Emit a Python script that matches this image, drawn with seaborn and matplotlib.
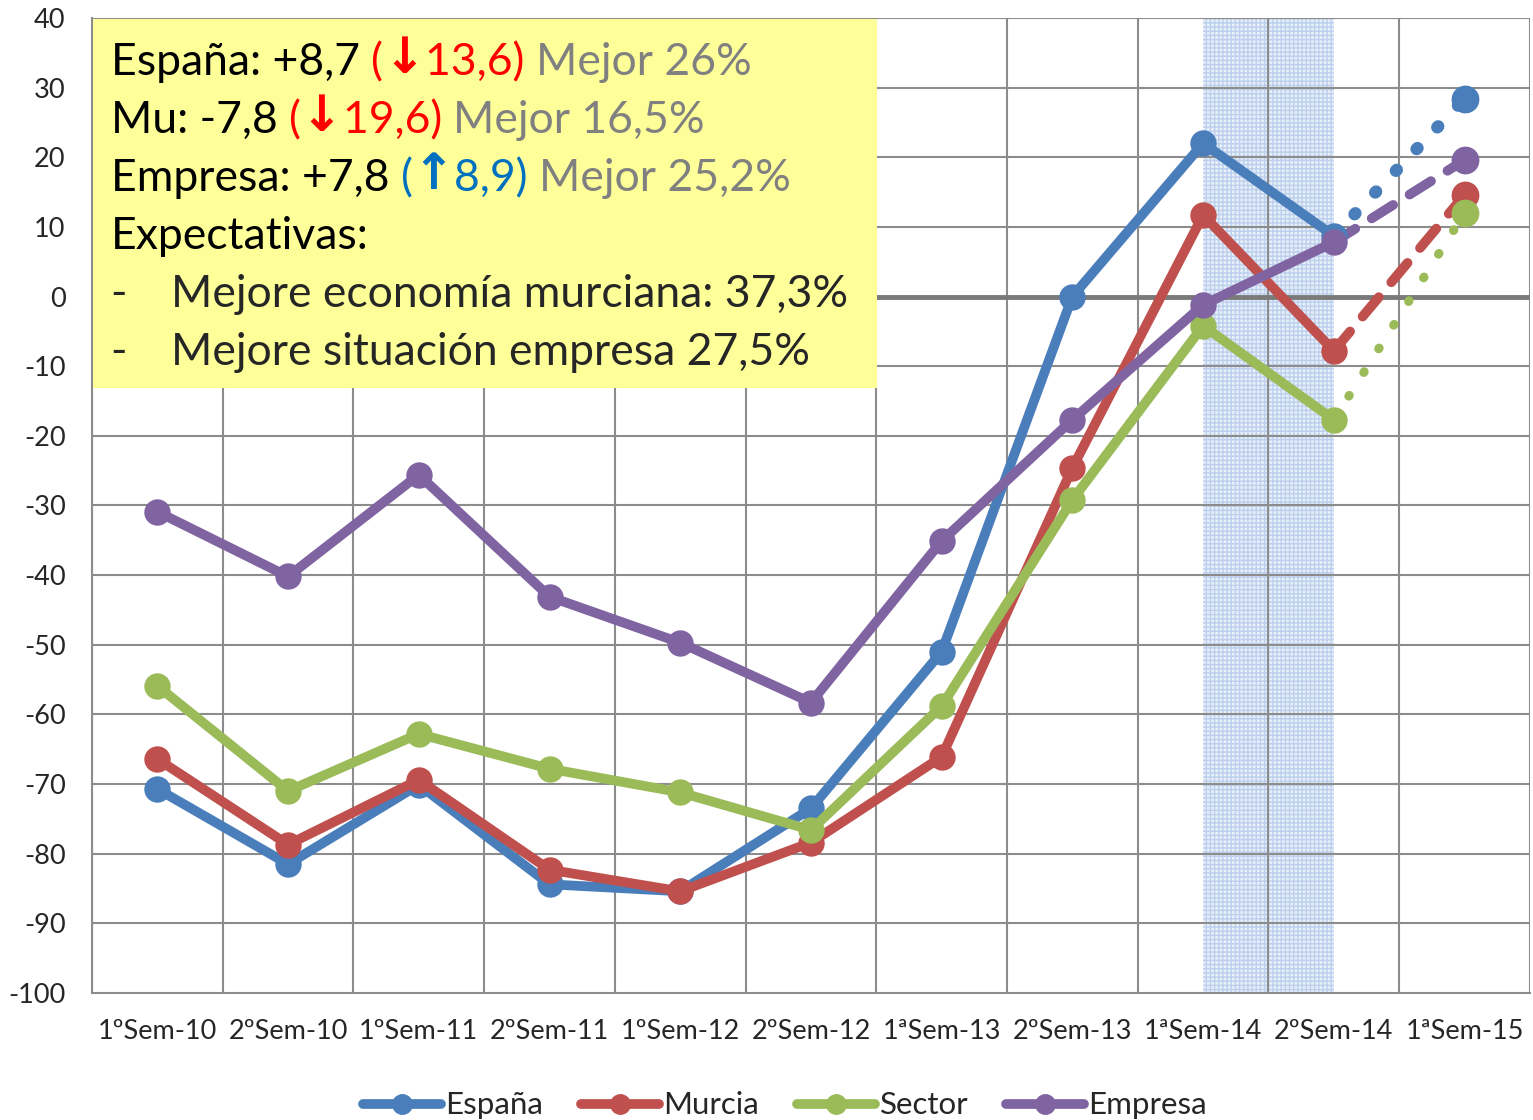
import numpy as np
import pandas as pd
import matplotlib.pyplot as plt
import seaborn as sns
from matplotlib.lines import Line2D
from matplotlib.patches import Rectangle

sns.set_style("white")
plt.rcParams['font.family'] = ['Lato', 'DejaVu Sans']

# data
semestres = ["1ºSem-10", "2ºSem-10", "1ºSem-11", "2ºSem-11", "1ºSem-12", "2ºSem-12",
             "1ªSem-13", "2ºSem-13", "1ªSem-14", "2ºSem-14", "1ªSem-15"]
espana = [-70.7, -81.5, -70.1, -84.4, -85.4, -73.5, -51.0, 0.0, 22.0, 8.7]
murcia = [-66.4, -78.7, -69.4, -82.3, -85.4, -78.4, -66.1, -24.6, 11.7, -7.8]
sector = [-55.9, -71.0, -62.8, -67.8, -71.2, -76.6, -58.8, -29.2, -4.2, -17.7]
empresa = [-30.9, -40.2, -25.6, -43.1, -49.7, -58.3, -35.1, -17.7, -1.2, 7.8]
# expectativas 1ªSem-15
prev_espana, prev_murcia, prev_sector, prev_empresa = 28.4, 14.6, 12.0, 19.6

series = ["España", "Murcia", "Sector", "Empresa"]
colors = {"España": "#4a7ebb", "Murcia": "#c0504d", "Sector": "#9bbb59", "Empresa": "#8064a2"}

fig = plt.figure(figsize=(15.33, 11.2), dpi=100)
ax = fig.add_axes([0.060, 0.1134, 0.938, 0.8706])

# shaded 1ªSem-14 .. 2ºSem-14
ax.axvspan(8, 9, facecolor='#e8eff9', edgecolor='#bcd0ee', hatch='++++', lw=0, zorder=1)

for v in np.arange(-0.5, 11, 1):
    ax.axvline(v, color='#8c8c8c', lw=1.5, zorder=1.2)
for h in range(-90, 41, 10):
    if h != 0:
        ax.axhline(h, color='#8c8c8c', lw=1.5, zorder=1.2)
ax.axhline(0, color='#7a7a7a', lw=3.5, zorder=1.3)

vals = {"España": espana, "Murcia": murcia, "Sector": sector, "Empresa": empresa}
prev = {"España": prev_espana, "Murcia": prev_murcia, "Sector": prev_sector, "Empresa": prev_empresa}
styles = {"España": (0, (0.1, 2.3)), "Murcia": (0, (2.6, 2.0)),
          "Sector": (0, (0.1, 3.0)), "Empresa": (0, (2.6, 2.0))}
widths = {"España": 9, "Murcia": 7, "Sector": 6.5, "Empresa": 7}

for s in series:
    df = pd.DataFrame({'x': range(len(vals[s])), 'y': vals[s]})
    sns.lineplot(data=df, x='x', y='y', ax=ax, color=colors[s], lw=7, marker='o',
                 markersize=19, markeredgewidth=0, zorder=4)
    df2 = pd.DataFrame({'x': [9, 10], 'y': [vals[s][-1], prev[s]]})
    sns.lineplot(data=df2, x='x', y='y', ax=ax, color=colors[s], lw=widths[s],
                 linestyle=styles[s], dash_capstyle='round', zorder=3)
    ax.plot([10], [prev[s]], 'o', color=colors[s], markersize=19, zorder=4)

ax.set_xlim(-0.5, 10.5)
ax.set_ylim(-100, 40)
ax.set_xticks(range(len(semestres)))
ax.set_xticklabels(semestres, fontsize=19.5)
ax.set_yticks(range(-100, 41, 10))
ax.set_yticklabels([str(v) for v in range(-100, 41, 10)], fontsize=19.5)
ax.tick_params(axis='x', length=0, pad=19)
ax.tick_params(axis='y', length=0, pad=19)
ax.set_xlabel('')
ax.set_ylabel('')
for sp in ['top', 'right']:
    ax.spines[sp].set_visible(False)
for sp in ['left', 'bottom']:
    ax.spines[sp].set_color('#8c8c8c')
    ax.spines[sp].set_linewidth(1.5)

# yellow text box
ax.add_patch(Rectangle((0, 0.6205), 0.546, 0.378, transform=ax.transAxes,
                       facecolor='#ffff99', edgecolor='none', zorder=2.5))

fs = 32
lines = [
    [("España: +8,7 ", 'black'), ("(", 'red'), ("↓", 'red'), ("13,6) ", 'red'), ("Mejor 26%", '#808080')],
    [("Mu: -7,8 ", 'black'), ("(", 'red'), ("↓", 'red'), ("19,6) ", 'red'), ("Mejor 16,5%", '#808080')],
    [("Empresa: +7,8 ", 'black'), ("(", '#0070c0'), ("↑", '#0070c0'), ("8,9) ", '#0070c0'), ("Mejor 25,2%", '#808080')],
    [("Expectativas:", 'black')],
]
y0 = 0.954
dy = 0.0595
for i, segs in enumerate(lines):
    t = ax.text(0.013, y0 - i * dy, segs[0][0], color=segs[0][1], fontsize=fs,
                transform=ax.transAxes, va='center', zorder=5)
    for txt, col in segs[1:]:
        if txt in ("↓", "↑"):
            t = ax.annotate(txt, xy=(1, 0), xycoords=t, va='bottom', ha='left',
                            color=col, fontsize=fs + 4, fontweight='bold',
                            family='DejaVu Sans', zorder=5)
        else:
            t = ax.annotate(txt, xy=(1, 0), xycoords=t, va='bottom', ha='left',
                            color=col, fontsize=fs, zorder=5)

for j, txt in enumerate(["Mejore economía murciana: 37,3%", "Mejore situación empresa 27,5%"]):
    yy = y0 - (4 + j) * dy
    ax.text(0.013, yy, "-", fontsize=fs, transform=ax.transAxes, va='center', zorder=5)
    ax.text(0.055, yy, txt, fontsize=fs, transform=ax.transAxes, va='center', zorder=5)

handles = [Line2D([0], [0], color=colors[s], lw=7, marker='o', markersize=14) for s in series]
fig.legend(handles, series, loc='center', bbox_to_anchor=(0.512, 0.013), ncol=4,
           frameon=False, fontsize=22.5, handlelength=2.5, handletextpad=0.15, columnspacing=1.2)

plt.savefig('out.png', dpi=100)
